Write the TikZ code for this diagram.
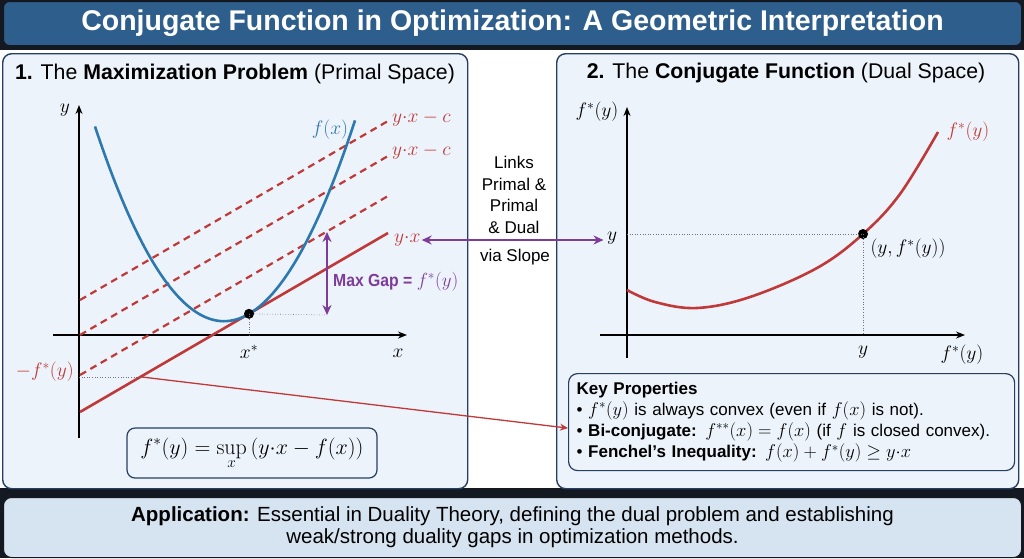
\RequirePackage{fix-cm}
\documentclass[tikz,border=0pt]{standalone}
\usepackage[no-math]{fontspec}
\setmainfont{Liberation Sans}
\newfontfamily\condfont[FakeStretch=0.9]{Liberation Sans}
\usetikzlibrary{arrows.meta,calc}
\definecolor{titleblue}{RGB}{45,94,140}
\definecolor{navy}{RGB}{38,62,98}
\definecolor{panelbg}{RGB}{236,243,250}
\definecolor{curveblue}{RGB}{46,120,176}
\definecolor{cred}{RGB}{192,57,57}
\definecolor{cpurple}{RGB}{125,60,152}
\definecolor{appbg}{RGB}{214,227,240}
\definecolor{darkedge}{RGB}{20,24,32}
\newcommand\kmath[1]{{\fontsize{18.5}{21.3}\selectfont$#1$}}
\begin{document}
\begin{tikzpicture}[x=1pt,y=-1pt,
  panel/.style={draw=navy,line width=1.4pt,fill=panelbg,rounded corners=9pt,inner sep=0pt},
  titlebar/.style={draw=darkedge,line width=1pt,fill=titleblue,rounded corners=6pt,text=white,
    font=\fontsize{28.5}{30}\selectfont\bfseries},
  axis/.style={line width=1.3pt,-{Stealth[length=9pt,width=7pt]}},
  redsolid/.style={draw=cred,line width=2.6pt},
  reddash/.style={draw=cred,line width=2.2pt,dash pattern=on 7pt off 5pt},
  bluecurve/.style={draw=curveblue,line width=2.6pt},
  redcurve/.style={draw=cred,line width=2.6pt},
  guide/.style={draw=black!55,line width=0.6pt,dotted},
  dotnode/.style={circle,fill=black,inner sep=0pt,minimum size=10pt},
  mathlbl/.style={font=\fontsize{19.5}{22}\selectfont},
  ptitle/.style={font=\fontsize{21.3}{24}\selectfont},
  purplearrow/.style={draw=cpurple,line width=2pt,{Stealth[length=10pt,width=9pt]}-{Stealth[length=10pt,width=9pt]}},
  linktext/.style={font=\fontsize{17}{21.5}\selectfont,align=center},
  keybox/.style={draw=navy,line width=1.2pt,rounded corners=9pt,fill=panelbg,
    text width=430pt,align=left,inner xsep=8pt,inner ysep=4pt,font=\fontsize{17}{21.3}\selectfont},
  fbox/.style={draw=navy,line width=1.2pt,rounded corners=8pt,fill=panelbg},
  appbox/.style={draw=darkedge,line width=1pt,rounded corners=8pt,fill=appbg,align=center,
    font=\fontsize{20.5}{22}\selectfont}
]
\useasboundingbox (0,0) rectangle (1024,558);
\fill[white] (0,0) rectangle (1024,558);
\fill[darkedge] (0,0) rectangle (1024,50);
\fill[darkedge] (0,488) rectangle (1024,558);

% title
\node[titlebar,minimum width=1018pt,minimum height=44pt,anchor=north west] (title) at (3,1)
  {Conjugate Function in Optimization: A Geometric Interpretation};

% panels
\node[panel,minimum width=465pt,minimum height=435pt,anchor=north west] (lpanel) at (2,53) {};
\node[panel,minimum width=462pt,minimum height=435pt,anchor=north west] (rpanel) at (556,53) {};

% ---------------- left panel ----------------
\node[ptitle] (ltitle) at (235,74) {\textbf{1.} The \textbf{Maximization Problem} (Primal Space)};

\draw[axis] (79,438) -- (79,105);
\node[mathlbl] (ly) at (65,110) {$y$};
\draw[axis] (53,335) -- (407,335);
\node[mathlbl] (lx) at (398,353) {$x$};

% dashed lines
\draw[reddash] (80,300) -- (388,121);
\node[mathlbl,text=cred,anchor=west,inner sep=1pt] (c1) at (391,119) {$y{\cdot}x - c$};
\draw[reddash] (80,335) -- (388,156);
\node[mathlbl,text=cred,anchor=west,inner sep=1pt] (c2) at (391,152) {$y{\cdot}x - c$};
\draw[reddash] (80,375) -- (388,196);

% solid line
\draw[redsolid] (80,412) -- (388,233);
\node[mathlbl,text=cred,anchor=west,inner sep=1pt] (yx) at (393,240) {$y{\cdot}x$};

% blue curve
\draw[bluecurve] plot[domain=95:355,samples=80] (\x,{321.2-0.0117*(\x-224)*(\x-224)});
\node[mathlbl,text=curveblue] (fx) at (330,130) {$f(x)$};

% tangent point
\node[dotnode] (xstar) at (249,313.8) {};
\draw[guide] (xstar.center) -- (249,335);
\node[mathlbl] (xs) at (249,352) {$x^*$};
\coordinate (gapbot) at (327,315);
\coordinate (gaptop) at (327,232);
\draw[guide] (xstar.center) -- (gapbot);
\draw[purplearrow] (gaptop) -- (gapbot);
\node[anchor=west,text=cpurple,inner sep=1pt] (gap) at (332,282)
  {\fontsize{17.5}{20}\selectfont\condfont\textbf{Max Gap =} \fontsize{19}{20}\selectfont$f^*(y)$};

% -f*(y)
\node[mathlbl,text=cred,anchor=east,inner sep=1pt] (mfs) at (75,372) {$-f^*(y)$};
\coordinate (fsy) at (142,377);
\draw[guide] (79,377) -- (fsy);

% formula
\node[fbox,minimum width=250pt,minimum height=50pt] (formula) at (252,453)
  {\fontsize{22}{24}\selectfont$\displaystyle f^*(y) = \sup_x\,(y{\cdot}x - f(x))$};

% ---------------- right panel ----------------
\node[ptitle] (rtitle) at (786,73) {\textbf{2.} The \textbf{Conjugate Function} (Dual Space)};

\draw[axis] (627,358) -- (627,107);
\draw[axis] (600,335) -- (965,335);
\node[mathlbl] (rya) at (597,112) {$f^*(y)$};
\node[mathlbl] (rxa) at (962,355) {$f^*(y)$};
\node[mathlbl] (rylbl) at (612,238) {$y$};
\node[mathlbl] (rxlbl) at (863,352) {$y$};

\draw[redcurve] plot[smooth,tension=0.6] coordinates
  {(627,290) (655,302) (697,308) (750,297) (817,268) (863,234) (900,194) (938,132)};
\node[mathlbl,text=cred] (fsl) at (968,132) {$f^*(y)$};
\node[dotnode] (pt) at (863,234) {};
\draw[guide] (627,234) -- (pt.center);
\draw[guide] (pt.center) -- (863,335);
\node[mathlbl] (ptl) at (908,249) {$(y,f^*(y))$};

% key properties
\node[keybox,minimum width=444pt,minimum height=97pt,anchor=north west] (keybox) at (568,373)
  {\textbf{Key Properties}\\
   \textbullet\ \kmath{f^*(y)} is always convex (even if \kmath{f(x)} is not).\\
   \textbullet\ \textbf{Bi-conjugate:} \kmath{f^{**}(x) = f(x)} (if \kmath{f} is closed convex).\\
   \textbullet\ \textbf{Fenchel’s Inequality:} \kmath{f(x) + f^*(y) \geq y{\cdot}x}};

\draw[cred,line width=1.3pt,-{Stealth[length=8pt,width=7pt]}] (fsy) -- ($(keybox.west)+(0,6)$);

% link between panels
\draw[purplearrow] (yx.east) -- (yx.east -| rylbl.west);
\node[linktext] (links) at (514,195) {Links\\Primal \&\\Primal\\\& Dual};
\node[linktext] (via) at (515,257) {via Slope};

% application
\node[appbox,minimum width=1018pt,minimum height=60pt,anchor=north west] (app) at (3,497)
  {\textbf{Application:} Essential in Duality Theory, defining the dual problem and establishing\\
   weak/strong duality gaps in optimization methods.};
\end{tikzpicture}
\end{document}
